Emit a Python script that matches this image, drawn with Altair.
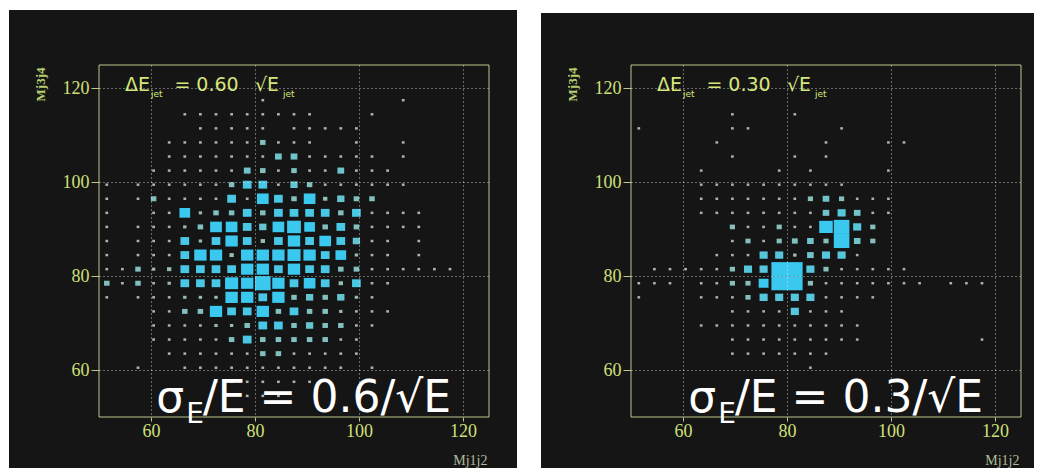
import altair as alt
import pandas as pd

# ---- histogram binning (25 x 25 bins of 3 GeV starting at 50) ----
BIN_START = 50
BIN_WIDTH = 3
x_ticks = [60, 80, 100, 120]
y_ticks = [60, 80, 100, 120]

# counts per bin, top row (Mj3j4 = 123.5) first, columns Mj1j2 = 51.5 ... 123.5
counts_left = [
    [0,0,0,0,0,0,0,0,0,0,0,0,0,0,0,0,0,0,0,0,0,0,0,0,0],
    [0,0,0,0,0,0,0,0,0,0,0,0,0,0,0,0,0,0,0,0,0,0,0,0,0],
    [0,0,0,0,0,0,0,0,0,0,2,0,0,0,0,0,0,0,0,2,0,0,0,0,0],
    [0,0,0,0,0,2,2,2,2,2,2,2,2,2,0,0,0,2,0,0,0,0,0,0,0],
    [0,0,0,0,0,0,2,2,2,2,2,0,2,2,2,2,2,0,0,0,0,0,0,0,0],
    [0,0,0,0,2,2,2,2,2,2,8,2,2,2,0,0,2,0,0,2,0,0,0,0,0],
    [0,0,0,0,2,2,2,2,2,2,2,12,12,2,2,2,2,2,0,2,0,0,0,0,0],
    [0,0,0,2,2,2,2,2,2,12,8,2,8,2,2,12,2,2,2,0,0,0,0,0,0],
    [2,0,2,2,2,2,2,2,8,20,20,2,14,8,2,2,2,2,2,2,0,0,0,0,0],
    [2,0,2,8,2,2,2,2,20,2,36,20,8,36,5,14,8,8,0,0,0,0,0,0,0],
    [2,0,0,2,2,30,3,8,8,20,8,20,20,20,20,8,20,2,2,2,2,0,0,0,0],
    [2,0,2,2,2,3,8,36,36,20,14,36,50,30,8,20,8,2,2,2,2,0,0,0,0],
    [2,0,2,2,2,20,3,20,40,20,5,20,40,20,36,20,14,2,2,0,2,0,0,0,0],
    [2,0,2,2,2,20,40,40,5,40,40,40,45,40,20,30,3,2,2,0,2,0,0,0,0],
    [2,2,8,3,5,20,20,20,20,40,40,20,40,20,20,8,8,2,2,2,2,2,2,0,0],
    [8,2,8,2,3,20,20,20,45,40,64,40,20,36,20,5,20,2,2,0,0,0,0,0,0],
    [2,0,2,2,2,3,3,3,40,40,20,40,8,14,8,14,3,2,0,0,0,0,0,0,0],
    [0,0,0,2,2,8,8,40,20,20,40,8,20,8,8,3,2,2,2,0,0,0,0,0,0],
    [0,0,0,2,2,2,2,3,3,8,20,20,8,14,8,8,2,2,0,0,0,0,0,0,0],
    [0,0,0,2,2,2,2,2,8,20,8,8,8,8,8,2,2,0,0,0,0,0,0,0,0],
    [0,0,0,0,2,2,2,2,2,2,8,8,2,2,2,2,2,0,0,0,0,0,0,0,0],
    [0,0,2,0,0,2,2,2,2,2,2,2,2,2,2,2,0,2,0,0,0,0,0,0,0],
    [0,0,0,0,0,0,0,2,2,2,2,2,2,2,0,0,0,0,0,0,0,0,0,0,0],
    [0,0,0,0,0,0,0,0,0,2,2,2,0,0,0,0,0,0,0,0,0,0,0,0,0],
    [0,0,0,0,0,0,0,0,0,0,0,0,0,0,0,0,0,0,0,0,0,0,0,0,0],
]

counts_right = [
    [0,0,0,0,0,0,0,0,0,0,0,0,0,0,0,0,0,0,0,0,0,0,0,0,0],
    [0,0,0,0,0,0,0,0,0,0,0,0,0,0,0,0,0,0,0,0,0,0,0,0,0],
    [0,0,0,0,0,0,0,0,0,0,0,0,0,0,0,0,0,0,0,0,0,0,0,0,0],
    [0,0,0,0,0,0,3,0,0,0,3,0,0,0,0,0,0,0,0,0,0,0,0,0,0],
    [3,0,0,0,0,0,3,3,0,0,0,0,0,3,0,0,0,0,0,0,0,0,0,0,0],
    [0,0,0,0,0,3,0,0,0,0,0,0,3,0,0,0,3,3,0,0,0,0,0,0,0],
    [0,0,0,0,0,0,3,0,0,0,3,0,3,0,0,0,0,0,0,0,0,0,0,0,0],
    [0,0,0,0,3,0,0,0,0,3,0,3,0,0,0,0,3,0,0,0,0,0,0,0,0],
    [0,0,0,0,3,3,3,3,3,3,3,3,3,3,0,0,0,0,0,0,0,0,0,0,0],
    [0,0,0,0,3,3,3,3,3,3,3,11,18,11,3,3,3,0,0,0,0,0,0,0,0],
    [0,0,0,0,3,3,3,3,3,3,3,3,18,27,18,3,3,0,0,0,0,0,0,0,0],
    [0,0,0,0,0,0,11,3,3,11,3,3,75,100,27,11,0,0,0,0,0,0,0,0,0],
    [0,0,0,0,0,0,3,11,3,11,14,18,11,100,18,11,0,0,0,0,0,0,0,0,0],
    [0,0,0,0,0,3,3,3,27,27,5,18,27,27,3,0,0,0,0,0,0,0,0,0,0],
    [0,3,3,3,3,3,11,27,27,100,100,27,11,3,3,3,3,3,0,0,0,0,0,0,0],
    [3,3,3,0,3,3,11,11,40,100,100,11,3,3,3,3,3,3,3,0,3,3,3,0,0],
    [3,0,0,0,3,3,3,11,27,27,27,27,3,3,3,3,0,0,0,0,0,0,0,0,0],
    [0,0,0,0,0,0,3,3,3,3,27,3,3,3,0,0,0,0,0,0,0,0,0,0,0],
    [0,0,0,0,3,3,3,3,3,3,3,3,3,3,3,0,0,0,0,0,0,0,0,0,0],
    [0,0,0,0,0,0,3,3,3,3,3,3,3,3,3,0,0,0,0,0,0,0,3,0,0],
    [0,0,0,0,0,0,3,3,3,3,3,3,3,0,0,0,0,0,0,0,0,0,0,0,0],
    [0,0,0,0,0,0,0,0,0,0,0,3,0,0,0,0,0,0,0,0,0,0,0,0,0],
    [0,0,0,0,0,0,0,0,0,0,0,0,0,0,0,0,0,0,0,0,0,0,0,0,0],
    [0,0,0,0,0,0,0,0,0,0,0,0,0,0,0,0,0,0,0,0,0,0,0,0,0],
    [0,0,0,0,0,0,0,0,0,0,0,0,0,0,0,0,0,0,0,0,0,0,0,0,0],
]

resolution_left = "0.60"
resolution_right = "0.30"
sigma_left = "0.6"
sigma_right = "0.3"


def to_frame(rows):
    recs = []
    n = len(rows)
    for r, row in enumerate(rows):
        j = n - 1 - r
        for k, c in enumerate(row):
            if c > 0:
                recs.append({"mx": BIN_START + BIN_WIDTH * (k + 0.5),
                             "my": BIN_START + BIN_WIDTH * (j + 0.5),
                             "count": c})
    return pd.DataFrame(recs)


W, H = 390, 352
BG = "#151515"
AXC = "#cfe07a"
FRAME = "#b9c98a"
ANN = "#d6e67a"
ONE = pd.DataFrame({"a": [0]})

xs = alt.Scale(domain=[50, 125], nice=False, zero=False)
ys = alt.Scale(domain=[50, 125], nice=False, zero=False)


def label(text, x, y, size, color, font="DejaVu Sans"):
    return alt.Chart(ONE).mark_text(
        text=text, align="left", baseline="alphabetic", fontSize=size,
        color=color, font=font
    ).encode(
        x=alt.X(datum=x, scale=xs),
        y=alt.Y(datum=y, scale=ys),
    )


def panel(rows, res, sig, bg_top, bg_right):
    df = to_frame(rows)
    half = BIN_WIDTH / 2
    bg = alt.Chart(ONE).mark_rect(color=BG).encode(
        x=alt.value(-90), x2=alt.value(bg_right),
        y=alt.value(bg_top), y2=alt.value(403))
    frame = alt.Chart(ONE).mark_rect(filled=False, stroke=FRAME, strokeWidth=1).encode(
        x=alt.value(0), x2=alt.value(W), y=alt.value(0), y2=alt.value(H))
    boxes = alt.Chart(df).transform_joinaggregate(
        cmax="max(count)"
    ).transform_calculate(
        frac="sqrt(datum.count / datum.cmax)",
        x0=f"datum.mx - {half} * datum.frac",
        x1=f"datum.mx + {half} * datum.frac",
        y0=f"datum.my - {half} * datum.frac",
        y1=f"datum.my + {half} * datum.frac",
    ).mark_rect().encode(
        x=alt.X("x0:Q", scale=xs, axis=alt.Axis(
            values=x_ticks, grid=True, gridDash=[1, 3], gridColor="#e8e8e8",
            gridOpacity=0.8, domain=False, tickSize=4, tickColor=FRAME,
            labelFont="Liberation Serif", labelFontSize=18, labelColor=AXC,
            labelPadding=1, zindex=1, title="Mj1j2", titleFont="Liberation Serif",
            titleFontSize=14, titleFontWeight="normal", titleColor="#b0bd98",
            titleAnchor="end", titleAlign="right", titleBaseline="alphabetic",
            titleX=W - 2, titleY=47)),
        x2="x1:Q",
        y=alt.Y("y0:Q", scale=ys, axis=alt.Axis(
            values=y_ticks, grid=True, gridDash=[1, 3], gridColor="#e8e8e8",
            gridOpacity=0.8, domain=False, tickSize=8, tickColor=FRAME,
            labelFont="Liberation Serif", labelFontSize=18, labelColor=AXC,
            labelPadding=2, zindex=1, title="Mj3j4", titleFont="Liberation Serif",
            titleFontSize=13, titleFontWeight="bold", titleColor="#b8d070",
            titleAnchor="end", titleAngle=270, titleAlign="right",
            titleBaseline="bottom", titleX=-52, titleY=2)),
        y2="y1:Q",
        color=alt.Color("frac:Q", legend=None, scale=alt.Scale(
            domain=[0.15, 0.6], range=["#a9b4b0", "#3bc8ef"], clamp=True)),
    )
    texts = [
        label("ΔE", 55, 119.5, 19, ANN),
        label("jet", 60, 118.1, 9, ANN),
        label(f"= {res}", 64.5, 119.5, 19, ANN),
        label("√E", 80, 119.5, 19, ANN),
        label("jet", 85.4, 118.1, 9, ANN),
        label("σ", 61, 51.0, 44, "white"),
        label("E", 66.8, 48.7, 28, "white"),
        label(f"/E = {sig}/√E", 70, 51.0, 44, "white"),
    ]
    return alt.layer(bg, frame, boxes, *texts).properties(width=W, height=H)


left = panel(counts_left, resolution_left, sigma_left, -55, 418)
right = panel(counts_right, resolution_right, sigma_right, -52, 403)

chart = alt.hconcat(left, right, spacing=142, bounds="flush").properties(
    padding={"left": 1, "top": 2, "right": 0, "bottom": 0},
    background="white",
).configure_view(strokeWidth=0)

chart.save("out.html", embed_options={"renderer": "svg", "actions": False})
